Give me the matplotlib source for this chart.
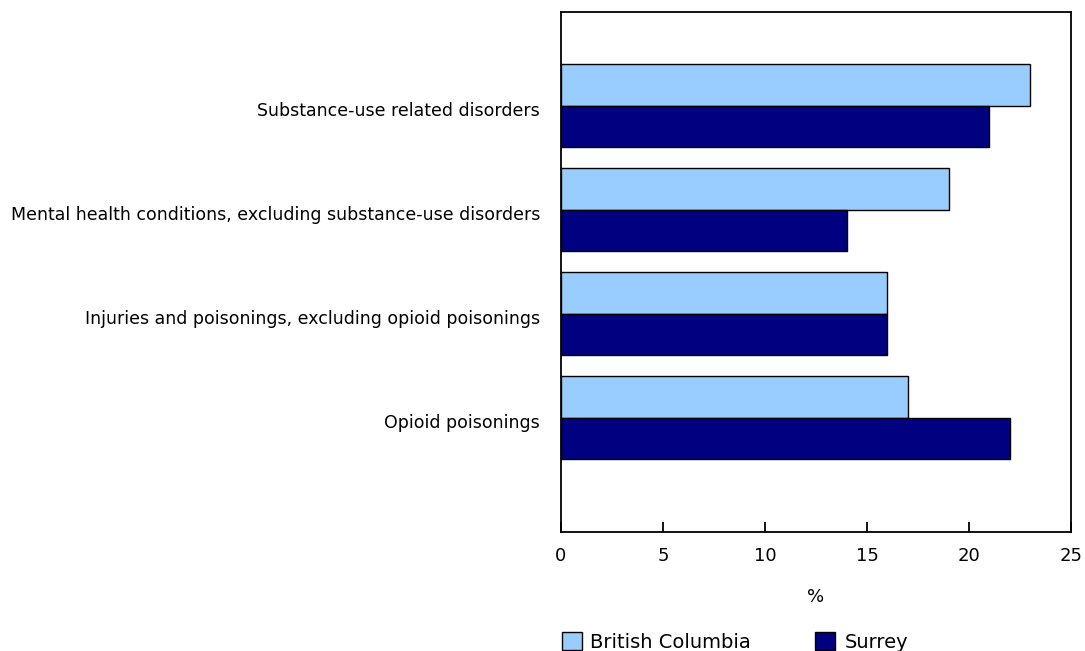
import numpy as np
import matplotlib
matplotlib.use("Agg")
import matplotlib.pyplot as plt
from matplotlib.patches import Patch

# data
categories = ["Substance-use related disorders",
              "Mental health conditions, excluding substance-use disorders",
              "Injuries and poisonings, excluding opioid poisonings",
              "Opioid poisonings"]
bc_values = [23, 19, 16, 17]
surrey_values = [21, 14, 16, 22]
series_names = ["British Columbia", "Surrey"]
x_ticks = [0, 5, 10, 15, 20, 25]

bc_color = "#99CCFF"
surrey_color = "#000080"

fig = plt.figure(figsize=(10.85, 6.51), dpi=100)
ax = fig.add_axes([561/1085, 1 - 532/651, 510/1085, 520/651])

y = np.arange(len(categories))
h = 0.4
ax.barh(y - h/2, bc_values, height=h, color=bc_color, edgecolor="black", linewidth=1)
ax.barh(y + h/2, surrey_values, height=h, color=surrey_color, edgecolor="black", linewidth=1)

ax.set_xlim(0, 25)
ax.set_ylim(4.1, -0.9)
ax.set_xticks(x_ticks)
ax.set_xticklabels([str(t) for t in x_ticks], fontsize=13)
ax.tick_params(axis="x", direction="in", length=7, width=1.3, pad=11)
# labels sit a touch below the group centre
ax.set_yticks(y + 0.035)
ax.set_yticklabels(categories, fontsize=12.5)
ax.tick_params(axis="y", length=0, pad=15)
for s in ax.spines.values():
    s.set_linewidth(1.3)
    s.set_color("black")

ax.set_xlabel("%", fontsize=13, labelpad=16)

handles = [Patch(facecolor=bc_color, edgecolor="black", linewidth=1),
           Patch(facecolor=surrey_color, edgecolor="black", linewidth=1)]
fig.legend(handles, series_names, loc="center left",
           bbox_to_anchor=(561.5/1085, 1 - 642/651), ncol=2, frameon=False,
           fontsize=14, handlelength=1.03, handleheight=1.03,
           handletextpad=0.46, columnspacing=3.3, borderpad=0, borderaxespad=0)

fig.savefig("out.png", dpi=100)
